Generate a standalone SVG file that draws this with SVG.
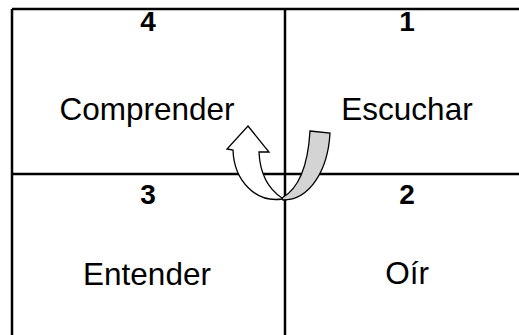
<svg xmlns="http://www.w3.org/2000/svg" width="519" height="335" viewBox="0 0 519 335">
<style>
.grid{stroke:#000;stroke-width:2.5;fill:none}
.num{font-family:"Liberation Sans",Arial,sans-serif;font-weight:bold;font-size:28px;text-anchor:middle;fill:#000}
.lbl{font-family:"Liberation Sans",Arial,sans-serif;font-size:31.5px;text-anchor:middle;fill:#000}
.arr{stroke:#000;stroke-width:1.3;stroke-linejoin:miter}
</style>
<rect width="519" height="335" fill="#fff"/>
<g id="grid">
<path class="grid" d="M12,9 H540 M12,174 H540 M12,9 V345 M285,9 V345"/>
</g>
<g id="cell4"><text class="num" x="148" y="31">4</text><text class="lbl" x="147" y="120">Comprender</text></g>
<g id="cell1"><text class="num" x="407" y="31">1</text><text class="lbl" x="407" y="120">Escuchar</text></g>
<g id="cell3"><text class="num" x="148" y="204">3</text><text class="lbl" x="147" y="285">Entender</text></g>
<g id="cell2"><text class="num" x="407" y="204">2</text><text class="lbl" x="407" y="284">Oír</text></g>
<g id="connectors">
<path class="arr" fill="#d4d4d4" d="M310,131 L330,133 C328,170 310,200 283,200 L282,198 C300,188 308,165 310,131 Z"/>
<path class="arr" fill="#fff" d="M248,126 L269,152 L259,152 C260,175 270,190 282,198 L282,199 C255,203 234,180 233,150 L227,149 Z"/>
</g>
</svg>
